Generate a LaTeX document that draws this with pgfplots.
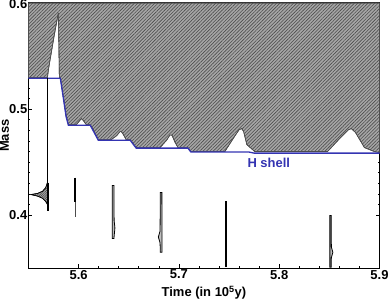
\documentclass[border=0pt]{standalone}
\usepackage{pgfplots}
\pgfplotsset{compat=1.18}
\usepackage{fontspec}
\setmainfont{Liberation Sans}
\usetikzlibrary{patterns.meta}
\definecolor{hblue}{RGB}{52,52,178}
\begin{document}
\begin{tikzpicture}
\begin{axis}[
  width=352pt, height=266pt, scale only axis,
  xmin=5.55, xmax=5.9, ymin=0.35, ymax=0.6,
  xtick={5.6,5.7,5.8,5.9}, xticklabels={5.6,5.7,5.8,5.9},
  ytick={0.4,0.5,0.6}, yticklabels={0.4,0.5,\raisebox{-4pt}[4pt][0pt]{0.6}},
  minor x tick num=4, minor y tick num=9,
  tick align=inside, major tick length=4pt, minor tick length=2pt,
  axis line style={line width=1.1pt},
  every tick/.style={black, line width=0.6pt},
  tick label style={font=\bfseries\fontsize{13}{13}\selectfont},
  xticklabel style={inner sep=1.5pt},
  yticklabel style={inner sep=1pt},
  label style={font=\bfseries\fontsize{13}{13}\selectfont},
  xlabel={Time (in 10\textsuperscript{5}y)},
  ylabel={Mass},
  xlabel style={inner sep=1pt, yshift=-4pt},
  ylabel style={inner sep=0pt, yshift=-1pt},
  clip=true,
]
% convective (hatched) region
\addplot[draw=black!70, line width=0.6pt, fill=black!35,
  postaction={pattern={Lines[angle=45,distance=2.4pt,line width=0.6pt]}, pattern color=black!70}]
 coordinates {
 (5.55,0.6) (5.55,0.5295) (5.5689,0.5295) (5.5699,0.537) (5.5719,0.5483)
 (5.5758,0.570) (5.5798,0.5906) (5.5808,0.5295) (5.5818,0.5295)
 (5.5850,0.510) (5.5875,0.494) (5.5898,0.4853) (5.5977,0.4853)
 (5.6010,0.4890) (5.6027,0.4910) (5.6045,0.4895) (5.6077,0.4853) (5.6116,0.4853)
 (5.6150,0.4800) (5.6196,0.4712) (5.6325,0.4712) (5.6380,0.4750)
 (5.6410,0.4785) (5.6424,0.4790) (5.6440,0.4770) (5.6474,0.4712) (5.6514,0.4712)
 (5.6574,0.4637) (5.6812,0.4637) (5.6880,0.4710) (5.6910,0.4755) (5.6930,0.4755)
 (5.6960,0.4690) (5.6991,0.4637) (5.7090,0.4637) (5.7120,0.4600)
 (5.7458,0.4600) (5.7560,0.4750) (5.7600,0.4805) (5.7625,0.4816) (5.7645,0.4790)
 (5.7677,0.4666) (5.7756,0.4600) (5.8482,0.4600) (5.8620,0.4740) (5.8690,0.4805)
 (5.8720,0.4816) (5.8760,0.4780) (5.8850,0.4637) (5.8949,0.4600) (5.9,0.4590)
 (5.9,0.6)
 } -- cycle;
% H shell
\addplot[hblue, line width=1.3pt] coordinates {
 (5.55,0.5290) (5.5818,0.5290) (5.5850,0.509) (5.5875,0.493) (5.5898,0.4848)
 (5.6116,0.4848) (5.6196,0.4707) (5.6514,0.4707) (5.6574,0.4632) (5.7090,0.4632)
 (5.7120,0.4595) (5.7700,0.4595) (5.7750,0.4585) (5.9,0.4585)
};
% thin convective zones below
\addplot[black, line width=1.2pt] coordinates {(5.5689,0.5295) (5.5689,0.4036)};
\addplot[black, line width=0.6pt, fill=black!35,
  postaction={pattern={Lines[angle=45,distance=1.6pt,line width=0.5pt]}, pattern color=black!75}]
 coordinates {(5.5689,0.4308) (5.5672,0.4260) (5.5640,0.4225) (5.5590,0.4205)
 (5.5525,0.4195) (5.5590,0.4180) (5.5640,0.4160) (5.5672,0.4130) (5.5689,0.4101)} -- cycle;
\addplot[black, line width=1.8pt] coordinates {(5.5694,0.4308) (5.5694,0.4036)};
\addplot[black, line width=2pt] coordinates {(5.5967,0.4355) (5.5967,0.4120)};
\addplot[black!70, line width=0.9pt] coordinates {(5.5967,0.4120) (5.5967,0.3980)};
\addplot[black, line width=0.8pt, fill=gray!50] coordinates {
 (5.6335,0.4280) (5.6352,0.4280) (5.6354,0.3950) (5.6362,0.3880) (5.6352,0.3780)
 (5.6335,0.3780)} -- cycle;
\addplot[black, line width=0.8pt, fill=gray!50] coordinates {
 (5.6815,0.4214) (5.6830,0.4214) (5.6832,0.3650) (5.6815,0.3650) (5.6812,0.3740)
 (5.6795,0.3795) (5.6812,0.3850)} -- cycle;
\addplot[black, line width=0.8pt, fill=gray!50] coordinates {
 (5.7462,0.4130) (5.7476,0.4130) (5.7476,0.3519) (5.7462,0.3519)} -- cycle;
\addplot[black, line width=0.8pt, fill=gray!50] coordinates {
 (5.8505,0.3998) (5.8519,0.3998) (5.8520,0.3700) (5.8535,0.3650) (5.8520,0.3600)
 (5.8519,0.3510) (5.8505,0.3510)} -- cycle;
\node[text=hblue, font=\bfseries\fontsize{13}{13}\selectfont] at (axis cs:5.7896,0.4490) {H shell};
\end{axis}
\end{tikzpicture}
\end{document}
